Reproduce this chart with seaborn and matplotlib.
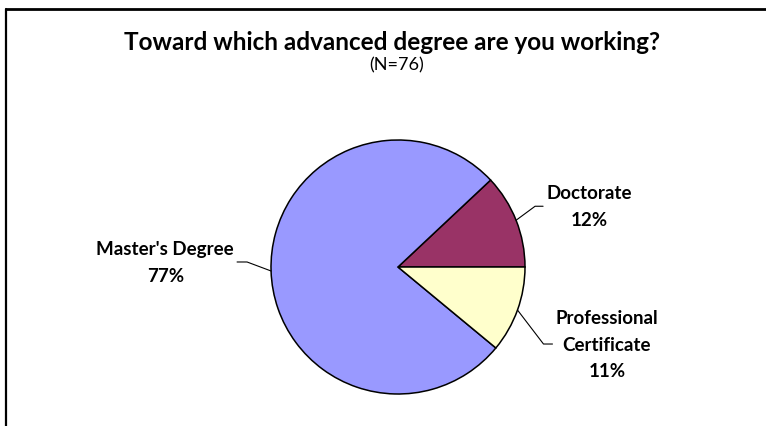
import numpy as np
import seaborn as sns
import matplotlib
matplotlib.use('Agg')
import matplotlib.pyplot as plt
from matplotlib.lines import Line2D

sns.set_theme(style='white')
plt.rcParams['font.family'] = ['Lato', 'DejaVu Sans']
plt.rcParams['text.color'] = 'black'

# data
labels = ['Doctorate', "Master's Degree", 'Professional\nCertificate']
shares = [12, 77, 11]
colors = ['#993366', '#9999FF', '#FFFFCC']
title = 'Toward which advanced degree are you working?'
subtitle = '(N=76)'

# leader line layout (pixels): elbow offset from wedge edge, horizontal run
elbow_dx = [19, -24, 26]
elbow_dy = [14, 9, -34]
run = [8, 10, 9]

W, H = 766, 427
fig = plt.figure(figsize=(W / 100, H / 100), dpi=100)
ax = fig.add_axes([0, 0, 1, 1])

cx, cy, R = 398, H - 268, 127
wedges, _ = ax.pie(shares, colors=colors, startangle=0, counterclock=True,
                   center=(cx, cy), radius=R, frame=True,
                   wedgeprops=dict(edgecolor='black', linewidth=1.1))
ax.set_xlim(0, W)
ax.set_ylim(0, H)
ax.set_aspect('equal')
ax.axis('off')

# leader lines + labels
for w, lab, val, dx, dy, r in zip(wedges, labels, shares, elbow_dx, elbow_dy, run):
    mid = np.deg2rad((w.theta1 + w.theta2) / 2)
    ex, ey = cx + R * np.cos(mid), cy + R * np.sin(mid)
    bx, by = ex + dx, ey + dy
    side = 1 if dx > 0 else -1
    hx = bx + side * r
    ax.plot([ex, bx, hx], [ey, by, by], color='black', lw=0.8)
    ax.text(hx + side * 3, by, f'{lab}\n{val}%', ha='left' if side > 0 else 'right',
            va='center', fontsize=13.5, fontweight='bold', linespacing=1.68,
            multialignment='center')

fig.text(392 / W, 1 - 42 / H, title, ha='center', va='center',
         fontsize=17.5, fontweight='bold')
fig.text(397 / W, 1 - 65 / H, subtitle, ha='center', va='center', fontsize=13)

# chart frame
fig.add_artist(Line2D([6 / W, 6 / W], [0, 1 - 10 / H], color='black', lw=1.6,
                      transform=fig.transFigure))
fig.add_artist(Line2D([6 / W, 1], [1 - 10 / H, 1 - 10 / H], color='black', lw=2,
                      transform=fig.transFigure))

fig.savefig('out.png', dpi=100, facecolor='white')
